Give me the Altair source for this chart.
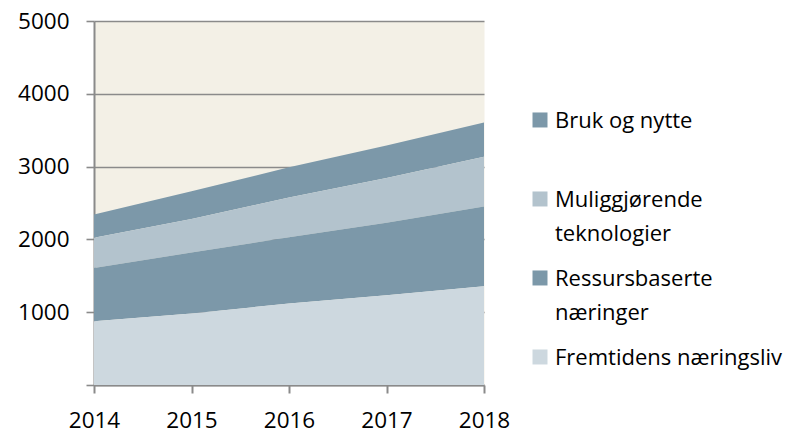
import altair as alt
import pandas as pd

years = [2014, 2015, 2016, 2017, 2018]
series_names = ["Bruk og nytte", "Muliggjørende teknologier",
                "Ressursbaserte næringer", "Fremtidens næringsliv"]
bruk = [319, 380, 415, 445, 470]
mulig = [416, 460, 545, 615, 685]
ressurs = [730, 838, 911, 997, 1096]
fremtidens = [877, 982, 1119, 1233, 1356]
colors = ["#7C98A9", "#B3C3CD", "#7C98A9", "#CDD8DF"]
y_ticks = [0, 1000, 2000, 3000, 4000, 5000]

rows = []
for i, (name, vals) in enumerate(zip(series_names, [bruk, mulig, ressurs, fremtidens])):
    for yr, v in zip(years, vals):
        rows.append({"year": yr, "series": name, "value": v, "stack": 3 - i})
df = pd.DataFrame(rows)

FONT = "Open Sans"
FS = 22.5
GRAY = "#8A8A8A"

label_expr = ("datum.label == 'Bruk og nytte' || datum.label == 'Fremtidens næringsliv'"
              " ? datum.label : split(datum.label, ' ')")

chart = alt.Chart(df).mark_area(opacity=1).encode(
    x=alt.X("year:Q", title=None,
            scale=alt.Scale(domain=[2014, 2018], nice=False, zero=False),
            axis=alt.Axis(values=years, format="d", grid=False, domainColor=GRAY,
                          domainWidth=2, tickColor=GRAY, tickWidth=2, tickSize=8,
                          labelFont=FONT, labelFontSize=FS, labelColor="black",
                          labelPadding=16.5, labelFlush=False)),
    y=alt.Y("value:Q", title=None, stack="zero",
            scale=alt.Scale(domain=[0, 5000], nice=False),
            axis=alt.Axis(values=y_ticks, format="d", grid=True, gridColor=GRAY,
                          gridWidth=1.6, domainColor=GRAY, domainWidth=2,
                          tickColor=GRAY, tickWidth=1.6, tickSize=8,
                          labelExpr="datum.value == 0 ? '' : datum.label",
                          labelFont=FONT, labelFontSize=FS, labelColor="black",
                          labelPadding=17, labelFlush=False)),
    color=alt.Color("series:N",
                    scale=alt.Scale(domain=series_names, range=colors),
                    legend=alt.Legend(title=None, orient="none", legendX=435, legendY=96,
                                      symbolType="M-1,-2.07H1V-0.07H-1Z", symbolSize=225,
                                      symbolStrokeWidth=0, symbolOpacity=1,
                                      labelFont=FONT, labelFontSize=22,
                                      labelColor="black", labelLimit=400,
                                      labelBaseline="alphabetic",
                                      labelOffset=4, rowPadding=23, gridAlign="all",
                                      labelExpr=label_expr, padding=0)),
    order=alt.Order("stack:Q", sort="ascending"),
).properties(
    width=390, height=364,
    autosize=alt.AutoSizeParams(type="none"),
    padding={"left": 86, "top": 13, "right": 309, "bottom": 48},
).configure(
    view=alt.ViewConfig(fill="#F3F0E6", stroke="transparent"),
    style={"guide-label": {"lineHeight": 34}},
)

chart.save("out.html", embed_options={"renderer": "svg", "actions": False})
